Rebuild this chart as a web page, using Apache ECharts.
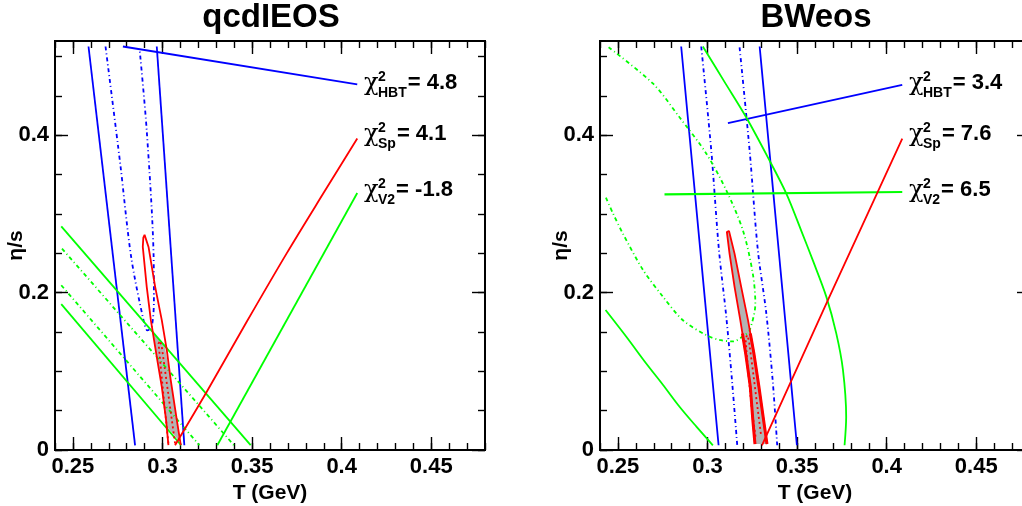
<!DOCTYPE html>
<html>
<head>
<meta charset="utf-8">
<script src="https://cdn.jsdelivr.net/npm/echarts@6/dist/echarts.min.js"></script>
<style>
html,body{margin:0;padding:0;background:#fff;}
#main{width:1022px;height:506px;}
</style>
</head>
<body>
<div id="main"></div>
<script>
// panel titles and chi2 tags
const panelTitles = ['qcdIEOS', 'BWeos'];
const chiNames = ['HBT', 'Sp', 'V2'];
const chiValues = [['4.8', '4.1', '-1.8'], ['3.4', '7.6', '6.5']];

// axes
const xMin = 0.24, xMax = 0.48, yMin = 0, yMax = 0.52;
const xMajor = [0.25, 0.3, 0.35, 0.4, 0.45];
const yMajor = [0, 0.2, 0.4];
const xMinor = [0.24,0.25,0.26,0.27,0.28,0.29,0.3,0.31,0.32,0.33,0.34,0.35,0.36,0.37,0.38,0.39,0.4,0.41,0.42,0.43,0.44,0.45,0.46,0.47,0.48];
const yMinor = [0,0.05,0.1,0.15,0.2,0.25,0.3,0.35,0.4,0.45,0.5];

// qcdIEOS contours  [T, eta/s]
const qHbtOuterL = [[0.2587,0.513],[0.2847,0.006]];
const qHbtOuterR = [[0.2968,0.513],[0.3122,0.006]];
const qHbtTag = [[0.2779,0.513],[0.4087,0.4648]];
const qHbtInner = [[0.2682,0.513],[0.2764,0.364],[0.2825,0.2455],[0.2894,0.165],[0.2916,0.152],[0.2940,0.157],[0.2952,0.190],[0.2950,0.250],[0.2912,0.406],[0.2872,0.510]];
const qSpOuter = [[0.3033,0.0063],[0.3020,0.0381],[0.2996,0.0804],[0.2968,0.1185],[0.2935,0.1651],[0.2912,0.2074],[0.2890,0.2582],[0.2893,0.2700],[0.2900,0.2735],[0.2907,0.2718],[0.2922,0.2582],[0.2959,0.2074],[0.2996,0.1651],[0.3024,0.1270],[0.3046,0.0889],[0.3080,0.0381],[0.3102,0.0063]];
const qSpInner = [[0.3033,0.0085],[0.3005,0.070],[0.2978,0.1354],[0.2987,0.1388],[0.2996,0.1312],[0.3033,0.070],[0.3070,0.0085]];
const qSpTag = [[0.3070,0.006],[0.3247,0.074],[0.3470,0.163],[0.3693,0.250],[0.3897,0.326],[0.4087,0.396]];
const qV2OuterA = [[0.2435,0.2844],[0.3492,0.0063]];
const qV2InnerA = [[0.2439,0.2561],[0.3399,0.006]];
const qV2InnerB = [[0.2435,0.2095],[0.3206,0.006]];
const qV2OuterB = [[0.2435,0.1854],[0.3104,0.006]];
const qV2Tag = [[0.3306,0.006],[0.4087,0.3268]];
const qOverlap = [[0.2946,0.150],[0.3012,0.1326],[0.3046,0.0889],[0.3080,0.0381],[0.3100,0.010],[0.3022,0.030],[0.2996,0.0804],[0.2968,0.1185]];

// BWeos contours
const bHbtOuterL = [[0.2853,0.513],[0.3062,0.006]];
const bHbtOuterR = [[0.3291,0.513],[0.3499,0.006]];
const bHbtInnerL = [[0.2965,0.513],[0.3021,0.381],[0.3064,0.254],[0.3105,0.169],[0.3138,0.085],[0.3166,0.006]];
const bHbtInnerR = [[0.3179,0.512],[0.3235,0.381],[0.3281,0.254],[0.3328,0.174],[0.3365,0.085],[0.3389,0.006]];
const bHbtTag = [[0.3114,0.4157],[0.4087,0.4643]];
const bSpOuter = [[0.3265,0.0076],[0.3253,0.0381],[0.3239,0.0804],[0.3213,0.1228],[0.3183,0.1651],[0.3151,0.2074],[0.3123,0.2497],[0.3108,0.2772],[0.3114,0.2794],[0.3120,0.2785],[0.3151,0.2497],[0.3188,0.2074],[0.3226,0.1651],[0.3259,0.1228],[0.3287,0.0804],[0.3313,0.0381],[0.3332,0.0076]];
const bSpBandL = [[0.3195,0.148],[0.3213,0.1228],[0.3239,0.0804],[0.3253,0.0381],[0.3265,0.0076]];
const bSpBandR = [[0.3239,0.148],[0.3259,0.1228],[0.3287,0.0804],[0.3313,0.0381],[0.3332,0.0076]];
const bSpInner = [[0.3268,0.0169],[0.3244,0.0593],[0.3226,0.1016],[0.3213,0.1397],[0.3220,0.146],[0.3231,0.1397],[0.3253,0.1016],[0.3276,0.0593],[0.3300,0.0169]];
const bSpTag = [[0.3304,0.006],[0.3672,0.1905],[0.4087,0.396]];
const bV2Arc = [[0.2974,0.513],[0.3095,0.468],[0.3216,0.423],[0.3337,0.372],[0.3440,0.326],[0.3523,0.279],[0.3588,0.241],[0.3663,0.195],[0.3719,0.148],[0.3756,0.102],[0.3774,0.042],[0.3765,0.006]];
const bV2Low = [[0.2431,0.178],[0.2547,0.144],[0.2658,0.110],[0.2751,0.083],[0.2844,0.055],[0.2937,0.030],[0.3030,0.006]];
const bV2Dot = [[0.2448,0.512],[0.2695,0.466],[0.2844,0.423],[0.2993,0.377],[0.3105,0.330],[0.3198,0.279],[0.3253,0.224],[0.3267,0.186],[0.3235,0.152],[0.3207,0.146],[0.3142,0.138],[0.3067,0.140],[0.2993,0.146],[0.2863,0.165],[0.2751,0.195],[0.2640,0.229],[0.2528,0.275],[0.2472,0.301],[0.2431,0.322]];
const bV2Tag = [[0.2760,0.325],[0.4087,0.328]];

const BLUE = '#0000ff', RED = '#ff0000', GREEN = '#00ff00', GREY = '#b3b3b3';
const FONT = 'Liberation Sans';
const DASHDOT = [4, 3, 1, 3];
const DOT = [2, 3];

function line(gi, data, color, type, width, smooth) {
    return {
        type: 'line', xAxisIndex: gi * 4, yAxisIndex: gi * 4,
        data: data, symbol: 'none', smooth: smooth || false,
        silent: true, animation: false, z: 3,
        lineStyle: {color: color, width: width, type: type}
    };
}
function area(gi, data) {
    return {
        type: 'custom', xAxisIndex: gi * 4, yAxisIndex: gi * 4,
        data: data, silent: true, animation: false, z: 1,
        renderItem: function (params, api) {
            if (params.dataIndex !== 0) return null;
            return {
                type: 'polygon',
                shape: {points: data.map(function (p) { return api.coord(p); })},
                style: {fill: GREY, stroke: null}
            };
        }
    };
}

const frameLine = {show: true, onZero: false, lineStyle: {color: '#000', width: 2}};
const tickStyle = {color: '#000', width: 1.4};
const fmt = function (v) { return String(Math.round(v * 100) / 100); };

function xAxes(gi) {
    const base = {type: 'value', gridIndex: gi, min: xMin, max: xMax, splitLine: {show: false}, axisLine: frameLine};
    return [
        Object.assign({}, base, {
            position: 'bottom', name: 'T (GeV)', nameLocation: 'middle', nameGap: 29,
            nameTextStyle: {fontFamily: FONT, fontWeight: 'bold', fontSize: 21, color: '#000'},
            axisTick: {show: true, inside: true, length: 13, customValues: xMajor, lineStyle: tickStyle},
            axisLabel: {show: true, customValues: xMajor, margin: 6, formatter: fmt,
                fontFamily: FONT, fontWeight: 'bold', fontSize: 22, color: '#000'}
        }),
        Object.assign({}, base, {position: 'bottom',
            axisTick: {show: true, inside: true, length: 7, customValues: xMinor, lineStyle: tickStyle},
            axisLabel: {show: false}}),
        Object.assign({}, base, {position: 'top',
            axisTick: {show: true, inside: true, length: 13, customValues: xMajor, lineStyle: tickStyle},
            axisLabel: {show: false}}),
        Object.assign({}, base, {position: 'top',
            axisTick: {show: true, inside: true, length: 7, customValues: xMinor, lineStyle: tickStyle},
            axisLabel: {show: false}})
    ];
}
function yAxes(gi) {
    const base = {type: 'value', gridIndex: gi, min: yMin, max: yMax, splitLine: {show: false}, axisLine: frameLine};
    return [
        Object.assign({}, base, {
            position: 'left', name: 'η/s', nameLocation: 'middle', nameGap: 28, nameRotate: 90,
            nameMoveOverlap: false,
            nameTextStyle: {fontFamily: FONT, fontWeight: 'bold', fontSize: 21, color: '#000'},
            axisTick: {show: true, inside: true, length: 13, customValues: yMajor, lineStyle: tickStyle},
            axisLabel: {show: true, customValues: yMajor, margin: 6, formatter: fmt,
                fontFamily: FONT, fontWeight: 'bold', fontSize: 22, color: '#000'}
        }),
        Object.assign({}, base, {position: 'left',
            axisTick: {show: true, inside: true, length: 7, customValues: yMinor, lineStyle: tickStyle},
            axisLabel: {show: false}}),
        Object.assign({}, base, {position: 'right',
            axisTick: {show: true, inside: true, length: 13, customValues: yMajor, lineStyle: tickStyle},
            axisLabel: {show: false}}),
        Object.assign({}, base, {position: 'right',
            axisTick: {show: true, inside: true, length: 7, customValues: yMinor, lineStyle: tickStyle},
            axisLabel: {show: false}})
    ];
}

// chi2 tags, title texts
const ctx = document.createElement('canvas').getContext('2d');
function textW(t, font) { ctx.font = font; return ctx.measureText(t).width; }
const titleX = [271, 816];
const chiX = [364, 909];
const rowY = [82.5, 133.5, 189.5];
const SUB_FONT = 'bold 14px "' + FONT + '"';
const EQ_FONT = 'bold 22px "' + FONT + '"';
let graphic = [];
for (let p = 0; p < 2; p++) {
    graphic.push({type: 'text', x: titleX[p], y: 18, silent: true,
        style: {text: panelTitles[p], font: 'bold 33px "' + FONT + '"', fill: '#000', align: 'center', verticalAlign: 'middle'}});
    for (let i = 0; i < 3; i++) {
        const x0 = chiX[p], y0 = rowY[i];
        const subW = Math.max(textW(chiNames[i], SUB_FONT), textW('2', SUB_FONT));
        graphic.push({type: 'text', x: x0, y: y0 + 1, silent: true,
            style: {text: 'χ', font: '24px "DejaVu Serif"', fill: '#000', align: 'left', verticalAlign: 'middle'}});
        graphic.push({type: 'text', x: x0 + 14, y: y0 - 5, silent: true,
            style: {text: '2', font: SUB_FONT, fill: '#000', align: 'left', verticalAlign: 'middle'}});
        graphic.push({type: 'text', x: x0 + 14, y: y0 + 10.5, silent: true,
            style: {text: chiNames[i], font: SUB_FONT, fill: '#000', align: 'left', verticalAlign: 'middle'}});
        graphic.push({type: 'text', x: x0 + 14 + subW + 1, y: y0, silent: true,
            style: {text: '= ' + chiValues[p][i], font: EQ_FONT, fill: '#000', align: 'left', verticalAlign: 'middle'}});
    }
}

const series = [
    area(0, qOverlap),
    line(0, qHbtOuterL, BLUE, 'solid', 1.8),
    line(0, qHbtOuterR, BLUE, 'solid', 1.8),
    line(0, qHbtTag, BLUE, 'solid', 1.8),
    line(0, qHbtInner, BLUE, DASHDOT, 1.8, 0.3),
    line(0, qV2OuterA, GREEN, 'solid', 1.8),
    line(0, qV2InnerA, GREEN, DASHDOT, 1.8),
    line(0, qV2InnerB, GREEN, DASHDOT, 1.8),
    line(0, qV2OuterB, GREEN, 'solid', 1.8),
    line(0, qV2Tag, GREEN, 'solid', 1.8),
    line(0, qSpOuter, RED, 'solid', 1.8),
    line(0, qSpInner, RED, DOT, 1.8),
    line(0, qSpTag, RED, 'solid', 1.8, 0.3),

    area(1, bSpOuter),
    line(1, bHbtOuterL, BLUE, 'solid', 1.8),
    line(1, bHbtOuterR, BLUE, 'solid', 1.8),
    line(1, bHbtInnerL, BLUE, DASHDOT, 1.8, 0.3),
    line(1, bHbtInnerR, BLUE, DASHDOT, 1.8, 0.3),
    line(1, bHbtTag, BLUE, 'solid', 1.8),
    line(1, bV2Arc, GREEN, 'solid', 1.8, 0.3),
    line(1, bV2Low, GREEN, 'solid', 1.8, 0.3),
    line(1, bV2Dot, GREEN, DASHDOT, 1.8, 0.3),
    line(1, bV2Tag, GREEN, 'solid', 2.2),
    line(1, bSpOuter, RED, 'solid', 1.8),
    line(1, bSpBandL, RED, 'solid', 3),
    line(1, bSpBandR, RED, 'solid', 3),
    line(1, bSpInner, RED, DOT, 1.8),
    line(1, bSpTag, RED, 'solid', 1.8)
];

const option = {
    animation: false,
    backgroundColor: '#fff',
    grid: [
        {left: 55, top: 41, width: 430, height: 409, outerBoundsMode: 'none'},
        {left: 600, top: 41, width: 430, height: 409, outerBoundsMode: 'none'}
    ],
    xAxis: xAxes(0).concat(xAxes(1)),
    yAxis: yAxes(0).concat(yAxes(1)),
    series: series,
    graphic: graphic
};
const myChart = echarts.init(document.getElementById('main'));
myChart.setOption(option);
</script>
</body>
</html>
